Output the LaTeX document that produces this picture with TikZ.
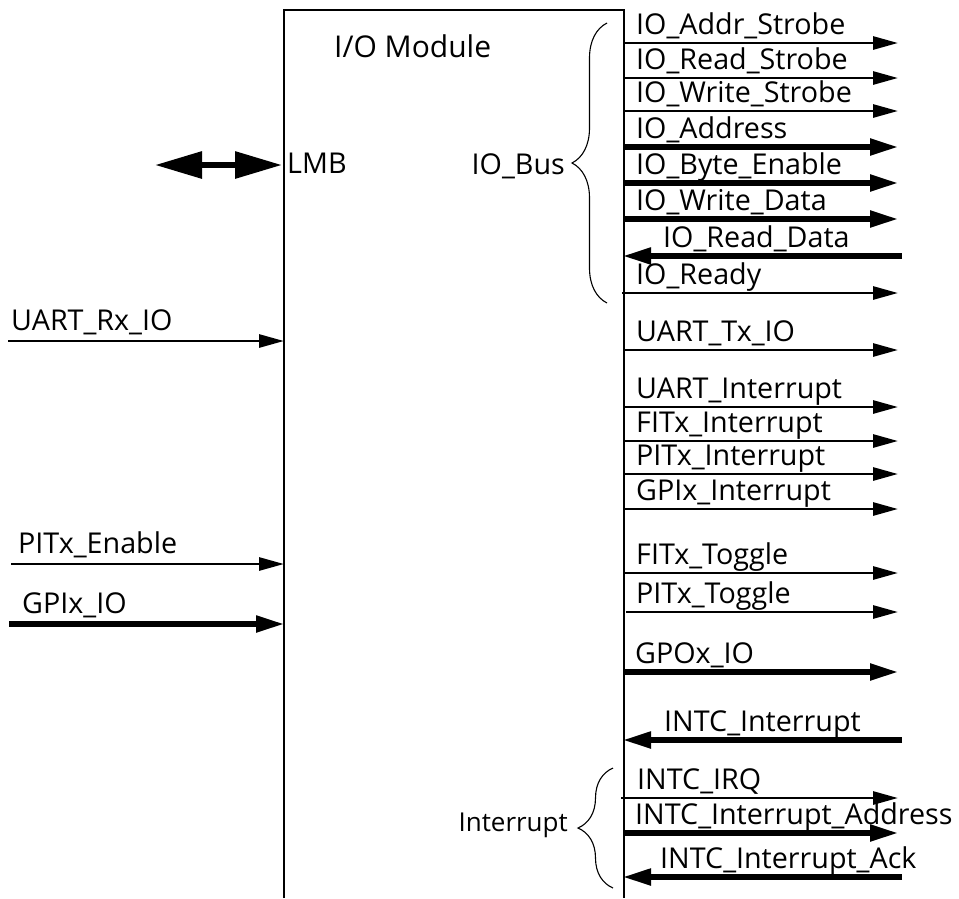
\documentclass[tikz,border=0pt]{standalone}
\usepackage{fontspec}
\setmainfont{Open Sans}
\usetikzlibrary{arrows.meta,decorations.pathreplacing}
\begin{document}
\begin{tikzpicture}[x=1pt,y=-1pt,
  lab/.style={anchor=base west,inner sep=0pt,font=\fontsize{28.7}{34}\selectfont},
  labr/.style={anchor=base east,inner sep=0pt,font=\fontsize{28.7}{34}\selectfont},
  thinsig/.style={line width=2.8pt,-{Triangle[length=25pt,width=13pt]}},
  thicksig/.style={line width=5.2pt,-{Triangle[length=28pt,width=16pt]}},
  busarrow/.style={line width=6pt,{Triangle[length=47pt,width=26pt]}-{Triangle[length=47pt,width=26pt]}},
  boxline/.style={line width=2.6pt},
  brc/.style={decorate,decoration={brace,amplitude=35pt},line width=1.1pt}]
\useasboundingbox (0,0) rectangle (959,898);

% module box (open at the bottom)
\coordinate (bl) at (284,898);
\coordinate (tl) at (284,10);
\coordinate (tr) at (624,10);
\coordinate (br) at (624,898);
\draw[boxline] (bl) -- (tl) -- (tr) -- (br);

\node[lab,font=\fontsize{30}{36}\selectfont] (title) at (334,57) {I/O Module};

% LMB
\coordinate (lmbL) at (155,165);
\coordinate (lmbR) at (282,165);
\draw[busarrow] (lmbL) -- (lmbR);
\node[lab] (lmb) at (287,173) {LMB};

% IO_Bus brace
\coordinate (busB) at (607,303);
\coordinate (busT) at (607,23);
\draw[brc] (busB) -- (busT);
\node[labr] (iobus) at (565,174) {IO\_Bus};

% Interrupt brace
\coordinate (intB) at (613,888);
\coordinate (intT) at (613,768);
\draw[brc] (intB) -- (intT);
\node[labr,font=\fontsize{26}{30}\selectfont] (intlab) at (568,831) {Interrupt};

% left inputs
\foreach \n/\y/\xs/\t/\s/\lx in {
  urx/341/8/UART\_Rx\_IO/thinsig/11,
  pen/564/11/PITx\_Enable/thinsig/18,
  gpi/624/9/GPIx\_IO/thicksig/22}{
  \coordinate (s\n) at (\xs,\y);
  \coordinate (e\n) at (284,\y);
  \draw[\s] (s\n) -- (e\n);
  \node[lab] (l\n) at (\lx,\y-11) {\t};
}

% right side signals
\foreach \n/\y/\xs/\xe/\t/\s/\lx in {
  a/43/623/898/IO\_Addr\_Strobe/thinsig/636,
  b/78/623/898/IO\_Read\_Strobe/thinsig/636,
  c/111/623/898/IO\_Write\_Strobe/thinsig/636,
  d/147/623/898/IO\_Address/thicksig/636,
  e/183/623/898/IO\_Byte\_Enable/thicksig/636,
  f/219/623/898/IO\_Write\_Data/thicksig/636,
  g/256/902/623/IO\_Read\_Data/thicksig/663,
  h/293/622/898/IO\_Ready/thinsig/636,
  i/350/623/898/UART\_Tx\_IO/thinsig/636,
  j/407/623/898/UART\_Interrupt/thinsig/636,
  k/441/623/898/FITx\_Interrupt/thinsig/636,
  l/474/623/898/PITx\_Interrupt/thinsig/636,
  m/509/623/898/GPIx\_Interrupt/thinsig/636,
  n/573/623/898/FITx\_Toggle/thinsig/636,
  o/612/626/898/PITx\_Toggle/thinsig/636,
  p/672/623/898/GPOx\_IO/thicksig/635,
  q/740/902/623/INTC\_Interrupt/thicksig/664,
  r/798/621/898/INTC\_IRQ/thinsig/637,
  s/833/623/898/INTC\_Interrupt\_Address/thicksig/635,
  t/877/902/623/INTC\_Interrupt\_Ack/thicksig/660}{
  \coordinate (s\n) at (\xs,\y);
  \coordinate (e\n) at (\xe,\y);
  \draw[\s] (s\n) -- (e\n);
  \node[lab] (l\n) at (\lx,\y-9) {\t};
}
\end{tikzpicture}
\end{document}
